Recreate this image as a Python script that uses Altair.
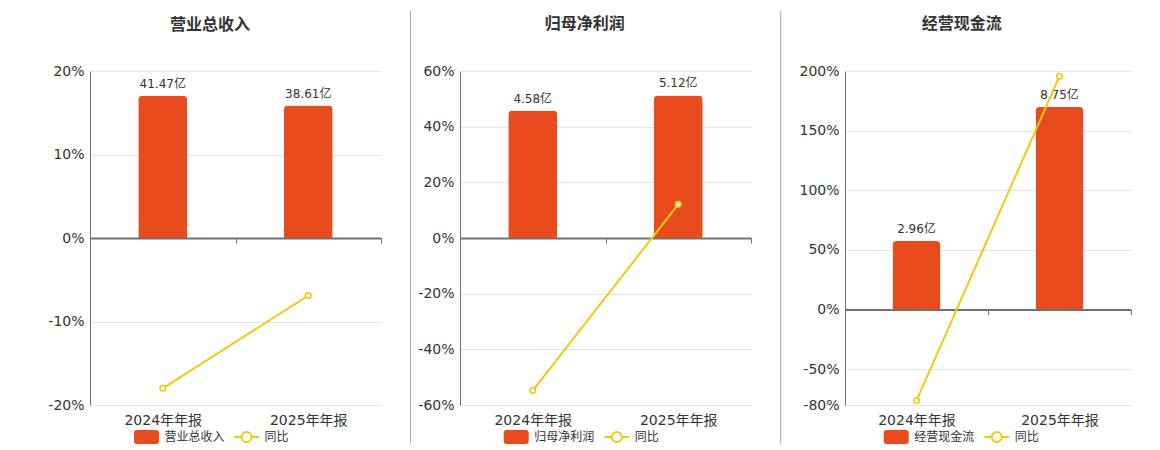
import altair as alt
import pandas as pd

# ---- data ----
categories = ["2024年年报", "2025年年报"]
titles = ["营业总收入", "归母净利润", "经营现金流"]
yoy_name = "同比"
revenue = [41.47, 38.61]          # 亿
net_profit = [4.58, 5.12]         # 亿
cash_flow = [2.96, 8.75]          # 亿
revenue_yoy = [-18.0, -6.9]       # %
net_profit_yoy = [-54.8, 12.1]    # %
cash_flow_yoy = [-76.3, 195.6]    # %
pct_ticks = [
    [-20, -10, 0, 10, 20],
    [-60, -40, -20, 0, 20, 40, 60],
    [-80, -50, 0, 50, 100, 150, 200],
]
bar_domains = [[-48.7, 48.7], [-6.0, 6.0], [-4.12, 10.3]]

# ---- style ----
FONT = "DejaVu Sans, Noto Sans CJK SC"
BAR = "#e84b1d"
YEL = "#f2c811"
TXT = "#333333"
AXC = "#6e7079"
GRID = "#e0e6f1"
H = 334
WIDTHS = [291, 291, 286]
SEP_X = [-49.5, -49.5, -64.3]
SEP_OP = [0, 1, 1]
BAR_W = [49, 49, 48]
LEG_BAR_X = [45.5, 45.2, 40.2]
LEG_LINE_X = [145.5, 145.8, 140.8]
TITLE_DX = [-1, 4, 6]

BAR_PATH = ("M-1.25,-0.4 Q-1.25,-0.7 -0.95,-0.7 L0.95,-0.7 Q1.25,-0.7 1.25,-0.4 "
            "L1.25,0.4 Q1.25,0.7 0.95,0.7 L-0.95,0.7 Q-1.25,0.7 -1.25,0.4 Z")
LINE_PATH = ("M-1.25,0 L-0.5,0 M0.5,0 L1.25,0 "
             "M0.5,0 A0.5,0.5 0 1,1 -0.5,0 A0.5,0.5 0 1,1 0.5,0")


def panel(i, vals, yoy):
    title = titles[i]
    ticks = pct_ticks[i]
    pmin, pmax = ticks[0], ticks[-1]
    zfb = H * (0 - pmin) / (pmax - pmin)  # zero line distance from bottom
    df = pd.DataFrame({
        "cat": categories,
        "value": vals,
        "yoy": yoy,
        "series": [title] * len(categories),
        "yname": [yoy_name] * len(categories),
    })
    base = alt.Chart(df)
    x = alt.X(
        "cat:N", sort=categories,
        scale=alt.Scale(paddingInner=0, paddingOuter=0),
        axis=alt.Axis(
            title=None, orient="bottom", offset=-zfb,
            domainColor=AXC, domainWidth=2,
            ticks=True, tickBand="extent", tickSize=5, tickColor=AXC, tickWidth=1,
            labelPadding=zfb + 3, labelFontSize=14, labelColor=TXT, labelFont=FONT,
            labelAngle=0, grid=False,
        ),
    )
    ybar = alt.Y("value:Q", scale=alt.Scale(domain=bar_domains[i], nice=False), axis=None)
    bars = base.mark_bar(
        size=BAR_W[i], cornerRadiusTopLeft=4, cornerRadiusTopRight=4
    ).encode(
        x=x, y=ybar,
        color=alt.Color(
            "series:N",
            scale=alt.Scale(domain=[title], range=[BAR]),
            legend=alt.Legend(
                title=None, orient="none", legendX=LEG_BAR_X[i], legendY=355,
                direction="horizontal", symbolType=BAR_PATH, symbolSize=400,
                labelFontSize=12, labelColor=TXT, labelFont=FONT, labelOffset=7,
                padding=0,
            ),
        ),
    )
    labels = base.transform_calculate(
        label="format(datum.value, '.2f') + '亿'"
    ).mark_text(
        dy=-5, baseline="bottom", fontSize=12, color=TXT, font=FONT
    ).encode(x=alt.X("cat:N", sort=categories), y=ybar, text="label:N")

    yp = alt.Y(
        "yoy:Q", scale=alt.Scale(domain=[pmin, pmax], nice=False),
        axis=alt.Axis(
            orient="left", values=ticks, title=None, labelExpr="datum.value + '%'",
            grid=True, gridColor=GRID, gridWidth=1,
            domainColor=AXC, domainWidth=1, ticks=False,
            labelPadding=6, labelFontSize=14, labelColor=TXT, labelFont=FONT,
        ),
    )
    line = base.mark_line(strokeWidth=2).encode(
        x=alt.X("cat:N", sort=categories), y=yp,
        stroke=alt.Stroke(
            "yname:N",
            scale=alt.Scale(domain=[yoy_name], range=[YEL]),
            legend=alt.Legend(
                title=None, orient="none", legendX=LEG_LINE_X[i], legendY=355,
                direction="horizontal", symbolType=LINE_PATH, symbolSize=400,
                symbolStrokeWidth=2, symbolFillColor="white",
                labelFontSize=12, labelColor=TXT, labelFont=FONT, labelOffset=7,
                padding=0,
            ),
        ),
    )
    pts = base.mark_point(
        shape="circle", size=30, filled=True, fill="white", stroke=YEL,
        strokeWidth=1.6, opacity=1
    ).encode(x=alt.X("cat:N", sort=categories), y=yp)

    sep = alt.Chart(pd.DataFrame({"s": [0]})).mark_rule(
        color="#aaaaaa", strokeWidth=1, opacity=SEP_OP[i]
    ).encode(x=alt.value(SEP_X[i]), y=alt.value(-60.3), y2=alt.value(372.7))

    ch = alt.layer(
        alt.layer(bars, labels),
        alt.layer(line, pts),
        sep,
    ).resolve_scale(y="independent").properties(
        width=WIDTHS[i], height=H,
        title=alt.TitleParams(
            text=title, anchor="middle", frame="bounds", fontSize=16,
            fontWeight="bold", color=TXT, font=FONT, offset=-22, dx=TITLE_DX[i],
        ),
    )
    return ch


p1 = panel(0, revenue, revenue_yoy)
p2 = panel(1, net_profit, net_profit_yoy)
p3 = panel(2, cash_flow, cash_flow_yoy)

chart = alt.hconcat(p1, p2, p3, spacing=28).resolve_scale(
    color="independent", stroke="independent"
).resolve_legend(
    color="independent", stroke="independent"
).properties(
    padding={"left": 32, "top": 2, "right": 5, "bottom": 2},
    background="white",
).configure_view(stroke=None)

chart.save("out.html", embed_options={"renderer": "svg", "actions": False})
